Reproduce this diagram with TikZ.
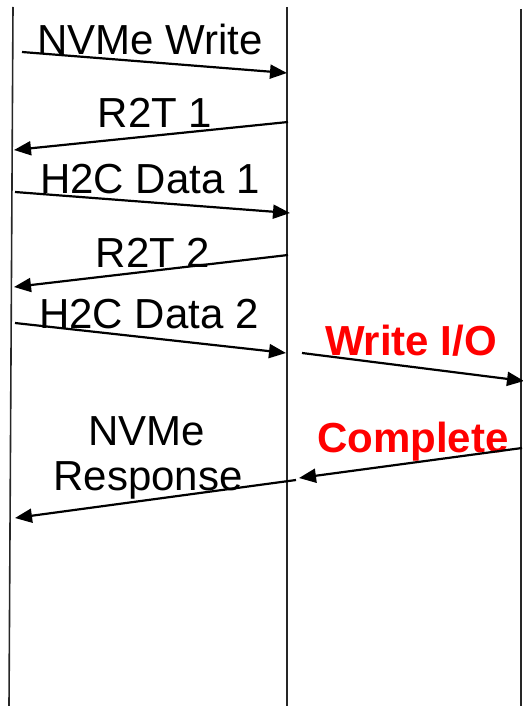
\documentclass[tikz,border=0pt]{standalone}
\usepackage{fontspec}
\setmainfont{Liberation Sans}
\usetikzlibrary{arrows.meta}
\begin{document}
\begin{tikzpicture}[x=1pt,y=-1pt,
  lifeline/.style={line width=1.6pt,black!85},
  msg/.style={line width=2.2pt,-{Triangle[length=17pt,width=14pt]}},
  lbl/.style={anchor=base,inner sep=0pt,font=\fontsize{42}{48}\selectfont},
  redlbl/.style={lbl,text=red,font=\fontsize{42}{48}\selectfont\bfseries}]
\useasboundingbox (0,0) rectangle (522,706);
% lifelines
\coordinate (hostTop) at (13,7);
\coordinate (hostBot) at (9,706);
\coordinate (ctrlTop) at (287,7);
\coordinate (ctrlBot) at (287,706);
\coordinate (devTop) at (521,9);
\coordinate (devBot) at (521,706);
\draw[lifeline] (hostTop) -- (hostBot);
\draw[lifeline] (ctrlTop) -- (ctrlBot);
\draw[lifeline] (devTop) -- (devBot);
% message end points
\coordinate (w0) at (22,52);   \coordinate (w1) at (287,73);
\coordinate (r10) at (288,122); \coordinate (r11) at (14,150);
\coordinate (d10) at (15,192); \coordinate (d11) at (290,213);
\coordinate (r20) at (288,255); \coordinate (r21) at (14,287);
\coordinate (d20) at (15,323); \coordinate (d21) at (286,353);
\coordinate (io0) at (302,353); \coordinate (io1) at (524,381);
\coordinate (c0) at (522,448); \coordinate (c1) at (299,478);
\coordinate (rs0) at (296,480); \coordinate (rs1) at (15,518);
% labels
\node[lbl] (tw) at (150,55) {NVMe Write};
\node[lbl] (tr1) at (155,128) {R2T 1};
\node[lbl] (td1) at (150,193) {H2C Data 1};
\node[lbl] (tr2) at (153,267) {R2T 2};
\node[lbl] (td2) at (149,328) {H2C Data 2};
\node[redlbl] (tio) at (411,355) {Write I/O};
\node[redlbl] (tc) at (413,452) {Complete};
\node[lbl] (tn) at (147,445) {NVMe};
\node[lbl] (trs) at (148,490) {Response};
% messages
\draw[msg] (w0) -- (w1);
\draw[msg] (r10) -- (r11);
\draw[msg] (d10) -- (d11);
\draw[msg] (r20) -- (r21);
\draw[msg] (d20) -- (d21);
\draw[msg] (io0) -- (io1);
\draw[msg] (c0) -- (c1);
\draw[msg] (rs0) -- (rs1);
\end{tikzpicture}
\end{document}
